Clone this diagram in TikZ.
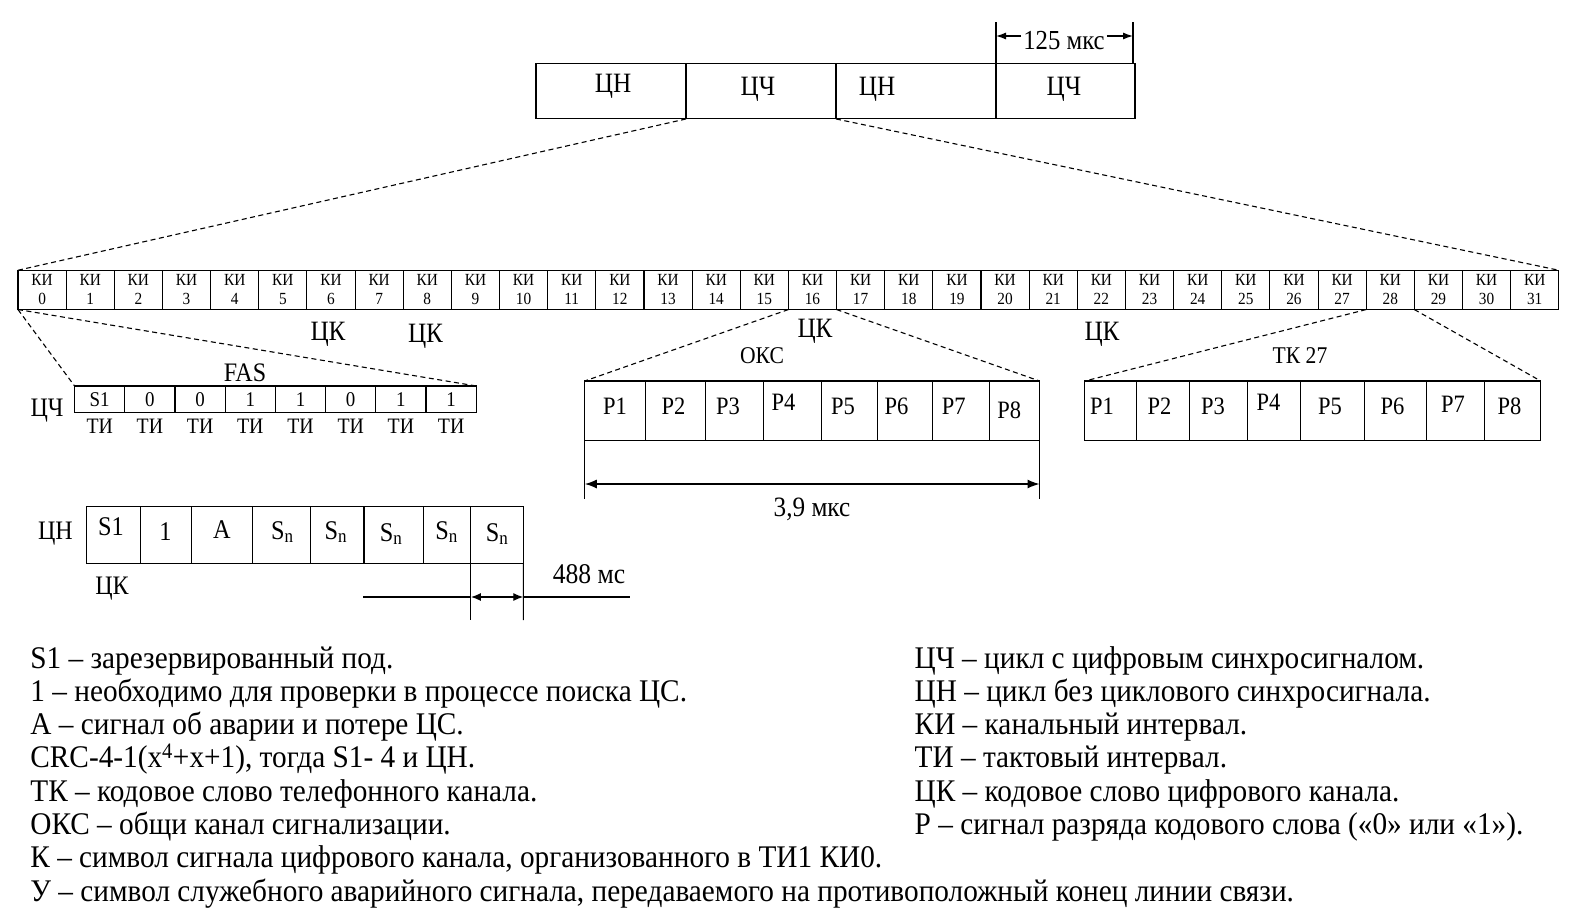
\documentclass[tikz,border=0pt]{standalone}
\usepackage{fontspec}
\setmainfont{Liberation Serif}[FakeStretch=0.9]
\newfontfamily\legfont{Liberation Serif}[FakeStretch=0.93]
\usetikzlibrary{arrows.meta}
\begin{document}
\begin{tikzpicture}[x=1pt,y=-1pt,
  frm/.style={draw, line width=1.1pt, inner sep=0pt, outer sep=0pt},
  dsh/.style={line width=1.1pt, dash pattern=on 5pt off 3.5pt},
  dim/.style={line width=1.1pt},
  dimarr/.style={line width=1.3pt, {Latex[length=12pt,width=9pt]}-{Latex[length=12pt,width=9pt]}},
  tbig/.style={inner sep=0pt, font=\fontsize{28}{32}\selectfont},
  tlab/.style={inner sep=0pt, font=\fontsize{26.7}{30}\selectfont},
  tmid/.style={inner sep=0pt, font=\fontsize{25}{28}\selectfont},
  leg/.style={inner sep=0pt, anchor=base west, font=\legfont\fontsize{31.5}{34}\selectfont}
]
\fill[white] (0,0) rectangle (1581,915);
\useasboundingbox (0,0) rectangle (1581,915);

% ---------- top frame ----------
\foreach \n/\a/\b in {f1/536/686, f2/686/836, f3/836/996, f4/996/1135}
  \node[frm, minimum width={(\b-\a)*1pt}, minimum height=55.5pt] (\n) at ({(\a+\b)/2},91.2) {};
\node[tbig] (tf1) at (613,86) {ЦН};
\node[tbig] (tf2) at (758,89) {ЦЧ};
\node[tbig] (tf3) at (877,89) {ЦН};
\node[tbig] (tf4) at (1064,89) {ЦЧ};

% 125 mks
\coordinate (d1t) at (996,22);
\coordinate (d2t) at (1133,22);
\draw[dim] (f4.north west) -- (d1t);
\draw[dim] (f4.north east -| d2t) -- (d2t);
\node[tbig, font=\fontsize{27.5}{30}\selectfont] (t125) at (1064,41) {125 мкс};
\coordinate (a1) at (996,36);
\coordinate (a2) at (1133,36);
\draw[line width=1.2pt, -{Latex[length=10pt,width=7pt]}] (t125.west |- a1) ++(-2,0) -- (a1);
\draw[line width=1.2pt, -{Latex[length=10pt,width=7pt]}] (t125.east |- a2) ++(2,0) -- (a2);

% ---------- KI row ----------
\foreach \i in {0,...,31}{
  \pgfmathsetmacro\cx{18+48.15*\i+24.075}
  \node[frm, minimum width=48.15pt, minimum height=39.3pt, align=center,
        font=\fontsize{17}{19}\selectfont] (ki\i) at (\cx,289.9) {КИ\\\i};
}
\draw[dsh] (f2.south west) -- (ki0.north west);
\draw[dsh] (f3.south west) -- (ki31.north east);

\node[tbig] (ck1) at (328,334) {ЦК};
\node[tbig] (ck2) at (425.5,336) {ЦК};
\node[tbig] (ck3) at (815,331) {ЦК};
\node[tbig] (ck4) at (1102,334) {ЦК};

% ---------- FAS ----------
\foreach \v [count=\k from 0] in {S1,0,0,1,1,0,1,1}{
  \pgfmathsetmacro\cx{74.6+50.2*\k+25.1}
  \node[frm, minimum width=50.2pt, minimum height=26.4pt, font=\fontsize{21}{23}\selectfont] (fas\k) at (\cx,399.2) {\v};
  \node[inner sep=0pt, font=\fontsize{22}{24}\selectfont] (ti\k) at (\cx,426) {ТИ};
}
\node[tlab] (fasl) at (245,373) {FAS};
\node[tlab] (cchl) at (47,411) {ЦЧ};
\draw[dsh] (ki0.south west) -- (fas0.north west);
\draw[dsh] (ki0.south west) -- (fas7.north east);

% ---------- OKS ----------
\foreach \a/\b/\t/\tx/\ty [count=\k] in {584.8/645.3/1/615/406, 645.3/705.8/2/673.5/406, 705.8/763.3/3/728/406, 763.3/821.8/4/783.4/402, 821.8/877.2/5/843/406, 877.2/932.7/6/896.4/406, 932.7/989.1/7/953.8/406, 989.1/1039.5/8/1009.3/410}{
  \node[frm, minimum width={(\b-\a)*1pt}, minimum height=59.6pt] (ok\k) at ({(\a+\b)/2},410.8) {};
  \node[tmid] (okt\k) at (\tx,\ty) {Р\t};
}
\node[tmid, font=\fontsize{24}{26}\selectfont] (oksl) at (762,356) {ОКС};
\draw[dsh] (ki16.south west) -- (ok1.north west);
\draw[dsh] (ki16.south east) -- (ok8.north east);

% 3,9 mks
\coordinate (o1b) at (584.8,499);
\coordinate (o2b) at (1039.5,499);
\draw[dim] (ok1.south west) -- (o1b);
\draw[dim] (ok8.south east) -- (o2b);
\coordinate (o1a) at (584.8,484);
\coordinate (o2a) at (1039.5,484);
\draw[dimarr] (o1a) -- (o2a);
\node[tbig] (t39) at (812,509) {3,9 мкс};

% ---------- TK 27 ----------
\foreach \a/\b/\t/\tx/\ty [count=\k] in {1084.9/1136.3/1/1102/406, 1136.3/1189.8/2/1159.5/406, 1189.8/1247.3/3/1213/406, 1247.3/1300.7/4/1268.4/402, 1300.7/1364.2/5/1330/406, 1364.2/1426.7/6/1392.4/406, 1426.7/1484.2/7/1453/404, 1484.2/1540.7/8/1509.4/406}{
  \node[frm, minimum width={(\b-\a)*1pt}, minimum height=59.6pt] (tk\k) at ({(\a+\b)/2},410.8) {};
  \node[tmid] (tkt\k) at (\tx,\ty) {Р\t};
}
\node[tmid, font=\fontsize{24}{26}\selectfont] (tkl) at (1300,356) {ТК 27};
\draw[dsh] (ki28.south west) -- (tk1.north west);
\draw[dsh] (ki28.south east) -- (tk8.north east);

% ---------- CN ----------
\foreach \a/\b/\t/\tx/\ty [count=\k] in {86.7/140.2/S1/111/527, 140.2/191.6/1/165.4/532, 191.6/252.1/A/221.8/530, 252.1/310.6/S\textsubscript{n}/282.3/532, 310.6/364/S\textsubscript{n}/335.8/532, 364/423.5/S\textsubscript{n}/391.2/534, 423.5/470.9/S\textsubscript{n}/446.7/532, 470.9/523.3/S\textsubscript{n}/497.1/534}{
  \node[frm, minimum width={(\b-\a)*1pt}, minimum height=57.4pt] (cn\k) at ({(\a+\b)/2},534.9) {};
  \node[inner sep=0pt, font=\fontsize{27}{30}\selectfont] (cnt\k) at (\tx,\ty) {\t};
}
\node[tlab] (cnl) at (55.5,534) {ЦН};
\node[tlab] (cnk) at (112,589) {ЦК};

% 488 ms
\coordinate (c1b) at (470.9,620);
\coordinate (c2b) at (523.3,620);
\draw[dim] (cn8.south west) -- (c1b);
\draw[dim] (cn8.south east) -- (c2b);
\coordinate (c1a) at (470.9,597);
\coordinate (c2a) at (523.3,597);
\coordinate (cl) at (363,597);
\coordinate (cr) at (630,597);
\draw[dim] (cl) -- (c1a);
\draw[dim] (c2a) -- (cr);
\draw[line width=1.3pt, {Latex[length=10pt,width=8pt]}-{Latex[length=10pt,width=8pt]}] (c1a) -- (c2a);
\node[inner sep=0pt, font=\fontsize{28.5}{31}\selectfont] (t488) at (589,574) {488 мс};

% ---------- legend ----------
\node[leg] (l1) at (30.2,668) {S1 – зарезервированный под.};
\node[leg] (l2) at (30.2,701.3) {1 – необходимо для проверки в процессе поиска ЦС.};
\node[leg] (l3) at (30.2,734.6) {A – сигнал об аварии и потере ЦС.};
\node[leg] (l4) at (30.2,767.9) {CRC-4-1(x\textsuperscript{4}+x+1), тогда S1- 4 и ЦН.};
\node[leg] (l5) at (30.2,801.2) {ТК – кодовое слово телефонного канала.};
\node[leg] (l6) at (30.2,834.5) {ОКС – общи канал сигнализации.};
\node[leg] (l7) at (30.2,867.8) {К – символ сигнала цифрового канала, организованного в ТИ1 КИ0.};
\node[leg] (l8) at (30.2,901.1) {У – символ служебного аварийного сигнала, передаваемого на противоположный конец линии связи.};

\node[leg] (r1) at (914.5,668) {ЦЧ – цикл с цифровым синхросигналом.};
\node[leg] (r2) at (914.5,701.3) {ЦН – цикл без циклового синхросигнала.};
\node[leg] (r3) at (914.5,734.6) {КИ – канальный интервал.};
\node[leg] (r4) at (914.5,767.9) {ТИ – тактовый интервал.};
\node[leg] (r5) at (914.5,801.2) {ЦК – кодовое слово цифрового канала.};
\node[leg] (r6) at (914.5,834.5) {Р – сигнал разряда кодового слова («0» или «1»).};
\end{tikzpicture}
\end{document}
